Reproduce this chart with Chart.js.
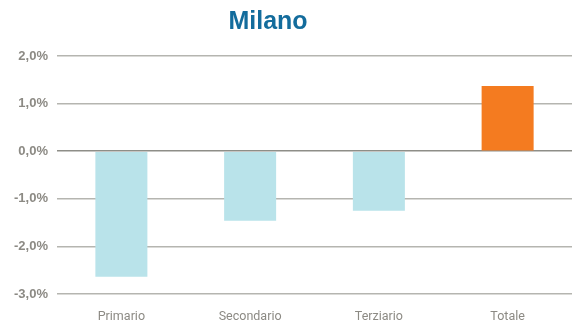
<!DOCTYPE html>
<html>
<head>
<meta charset="utf-8">
<script src="https://cdn.jsdelivr.net/npm/chart.js@4/dist/chart.umd.min.js"></script>
<style>
  html, body { margin: 0; padding: 0; background: #fff; }
  #wrap { width: 572px; height: 327px; }
</style>
</head>
<body>
<div id="wrap"><canvas id="myChart"></canvas></div>
<script>
// sectors and yearly change (%)
let categories = ["Primario", "Secondario", "Terziario", "Totale"];
let values = [-2.64, -1.46, -1.25, 1.37];
let barColors = ["#b9e3ea", "#b9e3ea", "#b9e3ea", "#f47b20"];
let yTicks = [-3, -2, -1, 0, 1, 2];

function fmtPct(v){
    return v.toFixed(1).replace(".", ",") + "%";
}

let ctx = document.getElementById("myChart").getContext("2d");
let myChart = new Chart(ctx, {
    type: "bar",
    data: {
        labels: categories,
        datasets: [{
            data: values,
            backgroundColor: barColors,
            borderWidth: 0,
            categoryPercentage: 1,
            barPercentage: 0.404
        }]
    },
    options: {
        responsive: true,
        maintainAspectRatio: false,
        animation: false,
        layout: {
            padding: { left: -36, right: 0, top: 0, bottom: 0 }
        },
        plugins: {
            legend: { display: false },
            tooltip: { enabled: false },
            title: {
                display: true,
                text: "Milano",
                color: "#136c9c",
                font: { family: "Liberation Sans", size: 25, weight: "bold" },
                padding: { top: 7, bottom: 19 }
            }
        },
        scales: {
            x: {
                grid: { display: false, drawTicks: false },
                border: { display: false },
                afterFit: function(axis){
                    axis.height = 33;
                },
                ticks: {
                    color: "#8c8a84",
                    padding: 15,
                    font: { family: "Roboto", size: 12.5 }
                }
            },
            y: {
                min: yTicks[0],
                max: yTicks[yTicks.length - 1],
                afterBuildTicks: function(axis){
                    axis.ticks = yTicks.map(v => ({ value: v }));
                },
                afterFit: function(axis){
                    axis.width = 93;
                },
                grid: {
                    drawTicks: false,
                    color: c => c.tick && c.tick.value === 0 ? "#8e8e88" : "#b5b5b0",
                    lineWidth: 1.5
                },
                border: { display: false },
                ticks: {
                    color: "#8c8a84",
                    padding: 9,
                    font: { family: "Liberation Sans", size: 13, weight: "bold" },
                    callback: v => fmtPct(v)
                }
            }
        }
    }
});
</script>
</body>
</html>
